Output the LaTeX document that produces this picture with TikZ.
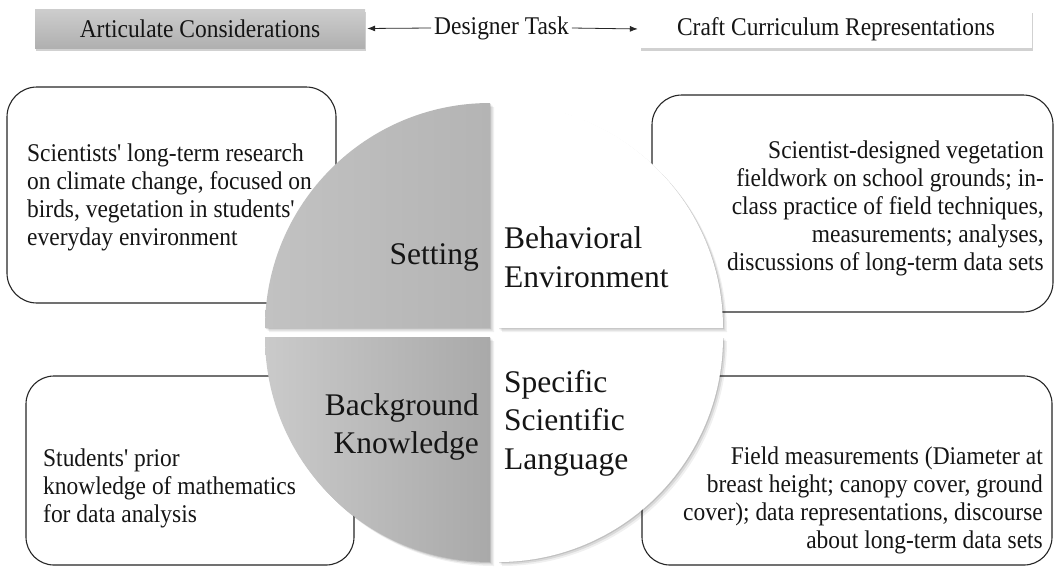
\documentclass[tikz,border=0pt]{standalone}
\usepackage{fontspec}
\setmainfont{Liberation Serif}[Ligatures=TeXOff]
\newfontfamily\bodyfont{Liberation Serif}[Ligatures=TeXOff, FakeStretch=0.92]
\usetikzlibrary{shadows,arrows.meta}
\definecolor{txt}{HTML}{151515}
\definecolor{agtop}{HTML}{CDCDCD}
\definecolor{agbot}{HTML}{B0B0B0}
\definecolor{qtl}{HTML}{C2C2C2}
\definecolor{qtr}{HTML}{B4B4B4}
\definecolor{qbl}{HTML}{CACACA}
\definecolor{qbr}{HTML}{A9A9A9}
\begin{document}
\begin{tikzpicture}[x=1pt,y=-1pt,
  bodytext/.style={font=\bodyfont\fontsize{25.5}{28}\selectfont, text=txt, inner sep=0pt},
  quadtext/.style={font=\fontsize{31.5}{38.5}\selectfont, text=txt, inner sep=0pt},
  roundbox/.style={draw=black!85, line width=1.1pt, rounded corners=30pt, inner sep=0pt, fill=white},
  topbox/.style={inner sep=0pt, font=\bodyfont\fontsize{25.5}{28}\selectfont, text=txt,
    drop shadow={shadow xshift=1pt, shadow yshift=-3pt, opacity=0.3, fill=black!60}},
  link/.style={-{Latex[length=8pt,width=6pt]}, line width=0.8pt, draw=black!85, shorten >=2pt}
]
\useasboundingbox (0,0) rectangle (1054,566);

% top bar
\node[topbox, minimum width=330pt, minimum height=39pt, top color=agtop, bottom color=agbot] (ac) at (200,28.5) {Articulate Considerations};
\node[topbox, minimum width=392pt, minimum height=38pt, fill=white] (cc) at (836,29) {Craft Curriculum Representations};
\node[font=\bodyfont\fontsize{25.5}{28}\selectfont, text=txt, inner xsep=3pt, inner ysep=0pt] (dt) at (501.5,28) {Designer Task};
\draw[link] (dt.west) -- (ac.east);
\draw[link] (dt.east) -- (cc.west);

% rounded boxes
\node[roundbox, minimum width=329pt, minimum height=216pt] (b1) at (171.5,195) {};
\node[roundbox, minimum width=401pt, minimum height=217pt] (b2) at (852.5,203.5) {};
\node[roundbox, rounded corners=28pt, minimum width=328pt, minimum height=189pt] (b3) at (190,470.5) {};
\node[roundbox, rounded corners=28pt, minimum width=410pt, minimum height=189pt] (b4) at (847,470.5) {};

\node[bodytext, anchor=west, align=left] (t1) at (27,197) {Scientists' long-term research\\on climate change, focused on\\birds, vegetation in students'\\everyday environment};
\node[bodytext, anchor=east, align=right] (t2) at (1044,208) {Scientist-designed vegetation\\fieldwork on school grounds; in-\\class practice of field techniques,\\measurements; analyses,\\discussions of long-term data sets};
\node[bodytext, anchor=west, align=left] (t3) at (43,488) {Students' prior\\knowledge of mathematics\\for data analysis};
\node[bodytext, anchor=east, align=right] (t4) at (1043,500) {Field measurements (Diameter at\\breast height; canopy cover, ground\\cover); data representations, discourse\\about long-term data sets};

% quadrant shadows
\foreach \d/\o in {1/0.12,2.5/0.09,4/0.06}{
  \fill[black, opacity=\o, xshift=\d pt, yshift=-\d pt]
    (490,328) -- ++(180:225) arc[start angle=180, end angle=270, radius=225] -- cycle
    (498,328) -- ++(270:225) arc[start angle=270, end angle=360, radius=225] -- cycle
    (490,337) -- ++(90:225) arc[start angle=90, end angle=180, radius=225] -- cycle
    (498,337) -- ++(0:225) arc[start angle=0, end angle=90, radius=225] -- cycle;
}
% quadrants
\shade[left color=qtl, right color=qtr]
  (490,328) -- ++(180:225) arc[start angle=180, end angle=270, radius=225] -- cycle;
\fill[white]
  (498,328) -- ++(270:225) arc[start angle=270, end angle=360, radius=225] -- cycle;
\shade[left color=qbl, right color=qbr]
  (490,337) -- ++(90:225) arc[start angle=90, end angle=180, radius=225] -- cycle;
\fill[white]
  (498,337) -- ++(0:225) arc[start angle=0, end angle=90, radius=225] -- cycle;

% quadrant labels
\node[quadtext, anchor=east] (q1) at (479,257) {Setting};
\node[quadtext, anchor=west, align=left] (q2) at (504,257) {Behavioral\\Environment};
\node[quadtext, anchor=east, align=right] (q3) at (479,427) {Background\\Knowledge};
\node[quadtext, anchor=west, align=left] (q4) at (504,423) {Specific\\Scientific\\Language};
\end{tikzpicture}
\end{document}
